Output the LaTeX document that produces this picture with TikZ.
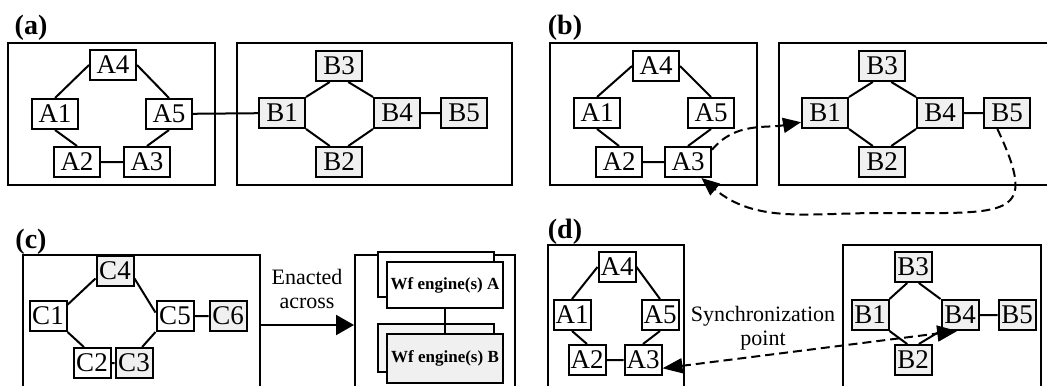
\documentclass[tikz,border=0pt]{standalone}
\usepackage{fontspec}
\setmainfont{Liberation Serif}
\usetikzlibrary{arrows.meta}

\begin{document}
\begin{tikzpicture}[
	x=0.5pt, y=0.5pt,
	every node/.style={font=\fontsize{13.5}{15}\selectfont},
	panel/.style={draw, line width=1pt, inner sep=0pt},
	task/.style={draw, line width=1pt, fill=white, inner sep=0pt, minimum width=23pt, minimum height=15pt},
	stask/.style={task, minimum width=18.5pt},
	grey/.style={fill=gray!12},
	title/.style={font=\bfseries\fontsize{14}{16}\selectfont},
	link/.style={line width=1pt},
	dashline/.style={line width=1pt, dash pattern=on 4.5pt off 2.5pt},
	note/.style={align=center, font=\fontsize{11}{11.8}\selectfont},
	engine/.style={draw, line width=1pt, fill=white, minimum width=58pt, inner sep=0pt, font=\bfseries\fontsize{8.5}{10}\selectfont}
]
\useasboundingbox (0,0) rectangle (1047,-385);
\clip (0,0) rectangle (1047,-385);

\node[title] (ta) at (31,-28) {(a)};
\node[panel, minimum width=103.5pt, minimum height=71pt] (pa1) at (111.5,-114) {};
\node[panel, minimum width=137.5pt, minimum height=71pt] (pa2) at (374.5,-114) {};
\node[task] (aA4) at (113,-65) {A4};
\node[task] (aA1) at (55,-114) {A1};
\node[task] (aA5) at (169,-114) {A5};
\node[task] (aA2) at (77,-162) {A2};
\node[task] (aA3) at (147,-162) {A3};
\node[task, grey] (aB3) at (339,-66) {B3};
\node[task, grey] (aB1) at (282,-113) {B1};
\node[task, grey] (aB4) at (397,-113) {B4};
\node[task, grey] (aB5) at (464,-113) {B5};
\node[task, grey] (aB2) at (339,-162) {B2};
\draw[link] (aA4.west) -- (aA1.north) (aA4.east) -- (aA5.north)
	(aA1.south) -- (aA2.north) (aA5.south) -- (aA3.north) (aA2) -- (aA3);
\draw[link] (aA5) -- (aB1);
\draw[link] (aB1.north east) -- (aB3.-120) (aB3.-60) -- (aB4.north west)
	(aB1.south east) -- (aB2.120) (aB2.60) -- (aB4.south west) (aB4) -- (aB5);

\node[title] (tb) at (565,-28) {(b)};
\node[panel, minimum width=103.5pt, minimum height=71pt] (pb1) at (653.5,-114) {};
\node[panel, minimum width=141.5pt, minimum height=71pt] (pb2) at (920.5,-114) {};
\node[task] (bA4) at (656,-66) {A4};
\node[task] (bA1) at (597,-113) {A1};
\node[task] (bA5) at (711,-113) {A5};
\node[task] (bA2) at (619,-162) {A2};
\node[task] (bA3) at (688,-162) {A3};
\node[task, grey] (bB3) at (882,-66) {B3};
\node[task, grey] (bB1) at (825,-113) {B1};
\node[task, grey] (bB4) at (940,-113) {B4};
\node[task, grey] (bB5) at (1007,-113) {B5};
\node[task, grey] (bB2) at (882,-162) {B2};
\draw[link] (bA4.west) -- (bA1.north) (bA4.east) -- (bA5.north)
	(bA1.south) -- (bA2.north) (bA5.south) -- (bA3.north) (bA2) -- (bA3);
\draw[link] (bB1.north east) -- (bB3.-120) (bB3.-60) -- (bB4.north west)
	(bB1.south east) -- (bB2.120) (bB2.60) -- (bB4.south west) (bB4) -- (bB5);
\coordinate (bLoop) at (880,-213);
\draw[dashline, -{Triangle[length=9pt,width=7.5pt]}] (bA3.27) to[out=50, in=190] (bB1.201);
\draw[dashline, -{Triangle[length=9pt,width=7.5pt]}] (bB5.-121) .. controls (1040,-220) and (1010,-213) .. (bLoop)
	to[out=180, in=-40] (bA3.-50);

\node[title] (tc) at (31,-242) {(c)};
\node[panel, minimum width=118.5pt, minimum height=70pt] (pc1) at (141.5,-325) {};
\node[panel, minimum width=80pt, minimum height=70pt] (pc2) at (435,-325) {};
\node[stask, grey] (cC4) at (115,-271) {C4};
\node[stask] (cC1) at (48,-316) {C1};
\node[stask] (cC5) at (175,-316) {C5};
\node[stask, grey] (cC6) at (228,-316) {C6};
\node[stask] (cC2) at (92,-363) {C2};
\node[stask, grey] (cC3) at (134,-363) {C3};
\draw[link] (cC4.-159) -- (cC1.30) (cC4.-21) -- (cC5.170)
	(cC1.south east) -- (cC2.117) (cC5.south west) -- (cC3.63) (cC2) -- (cC3) (cC5) -- (cC6);
\draw[line width=1pt, -{Triangle[length=9pt,width=10pt]}] (pc1) -- (pc2);
\node[note] (enact) at (307,-289) {Enacted\\across};
\node[engine, minimum height=22.5pt] (backA) at (435.5,-274.5) {};
\node[engine, minimum height=23pt] (engA) at (445,-285) {Wf engine(s) A};
\node[engine, fill=gray!8, minimum height=24pt] (backB) at (435.5,-348) {};
\node[engine, grey, minimum height=24.5pt] (engB) at (445,-358.5) {Wf engine(s) B};
\draw[link] (engA) -- (engB);

\node[title] (td) at (565,-232) {(d)};
\node[panel, minimum width=68pt, minimum height=77.5pt] (pd1) at (616,-322.5) {};
\node[panel, minimum width=99pt, minimum height=77.5pt] (pd2) at (942,-322.5) {};
\node[stask] (dA4) at (617,-267) {A4};
\node[stask] (dA1) at (572,-315) {A1};
\node[stask] (dA5) at (660,-315) {A5};
\node[stask] (dA2) at (587,-360) {A2};
\node[stask] (dA3) at (643,-360) {A3};
\node[stask, grey] (dB3) at (913,-267) {B3};
\node[stask, grey] (dB1) at (870,-315) {B1};
\node[stask, grey] (dB4) at (960,-315) {B4};
\node[stask, grey] (dB5) at (1017,-315) {B5};
\node[stask, grey] (dB2) at (913,-360) {B2};
\draw[link] (dA4.west) -- (dA1.north) (dA4.east) -- (dA5.north)
	(dA1.south) -- (dA2.north) (dA5.south) -- (dA3.north) (dA2) -- (dA3);
\draw[link] (dB1.north east) -- (dB3.-110) (dB3.-70) -- (dB4.north west)
	(dB1.south east) -- (dB2.110) (dB2.70) -- (dB4.south west) (dB4) -- (dB5);
\node[note] (sync) at (763,-328) {Synchronization\\point};
\draw[dashline, {Triangle[length=10pt,width=7.5pt]}-{Triangle[length=10pt,width=8pt]}] (dA3.-23) -- (dB4.-100);
\end{tikzpicture}
\end{document}
